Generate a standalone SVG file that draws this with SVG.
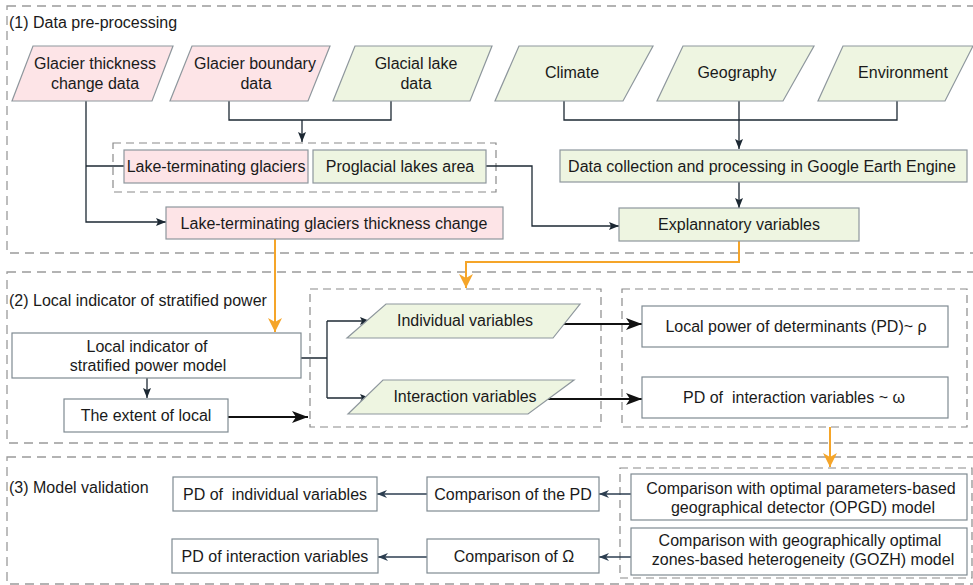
<svg xmlns="http://www.w3.org/2000/svg" width="973" height="585" viewBox="0 0 973 585">
<defs>
<style>
text{font-family:"Liberation Sans",Arial,sans-serif;font-size:16px;fill:#1a1a1a}
.c{text-anchor:middle}
.pre{white-space:pre}
.sec{fill:none;stroke:#9a9a9a;stroke-width:1.3;stroke-dasharray:9,6}
.grp{fill:none;stroke:#8a8a8a;stroke-width:1.2;stroke-dasharray:8,5}
.pink{fill:#fde4e7;stroke:#8e979d;stroke-width:1.2}
.green{fill:#eef5e1;stroke:#8e979d;stroke-width:1.2}
.white{fill:#ffffff;stroke:#7f8a92;stroke-width:1.2}
.ln{fill:none;stroke:#1c2833;stroke-width:1.3}
.thk{fill:none;stroke:#111;stroke-width:2}
.or{fill:none;stroke:#f5a529;stroke-width:2}
.sl{fill:none;stroke:#2c3e50;stroke-width:1.5}
</style>
<marker id="a" markerUnits="userSpaceOnUse" markerWidth="10" markerHeight="10" refX="10" refY="5" orient="auto"><path d="M0,1 L10,5 L0,9 L2,5 z" fill="#1c2833"/></marker>
<marker id="ab" markerUnits="userSpaceOnUse" markerWidth="16" markerHeight="12" refX="16" refY="6" orient="auto"><path d="M0,0 L16,6 L0,12 L4,6 z" fill="#111"/></marker>
<marker id="ao" markerUnits="userSpaceOnUse" markerWidth="14" markerHeight="14" refX="14" refY="7" orient="auto"><path d="M0,0 L14,7 L0,14 L4,7 z" fill="#f5a529"/></marker>
<marker id="as" markerUnits="userSpaceOnUse" markerWidth="10" markerHeight="10" refX="10" refY="5" orient="auto"><path d="M0,1 L10,5 L0,9 L3,5 z" fill="#2c3e50"/></marker>
</defs>

<g id="sections">
<rect class="sec" x="7" y="6" width="985" height="247"/>
<rect class="sec" x="7" y="272" width="985" height="171"/>
<rect class="sec" x="7" y="457" width="985" height="127"/>
<text x="9" y="28">(1) Data pre-processing</text>
<text x="9" y="306">(2) Local indicator of stratified power</text>
<text x="9" y="493">(3) Model validation</text>
</g>

<g id="groups">
<rect class="grp" x="113" y="143" width="383" height="49"/>
<rect class="grp" x="310" y="289" width="291" height="138"/>
<rect class="grp" x="622" y="289" width="345" height="138"/>
<rect class="grp" x="620" y="468" width="352" height="110"/>
</g>

<g id="connectors">
<path class="ln" d="M86,101 V222 H166" marker-end="url(#a)"/>
<path class="ln" d="M86,166 H124"/>
<path class="ln" d="M229,101 V120 H391 V101"/>
<path class="ln" d="M302,120 V142" marker-end="url(#a)"/>
<path class="ln" d="M486,166 H532 V226 H619" marker-end="url(#a)"/>
<path class="ln" d="M564,101 V120 H897 V101"/>
<path class="ln" d="M739,101 V149" marker-end="url(#a)"/>
<path class="ln" d="M739,182 V208" marker-end="url(#a)"/>
<path class="or" d="M275,239 V332" marker-end="url(#ao)"/>
<path class="or" d="M739,241 V262 H466 V288" marker-end="url(#ao)"/>
<path class="ln" d="M147,378 V398" marker-end="url(#a)"/>
<path class="thk" d="M228,417 H308" marker-end="url(#ab)"/>
<path class="ln" d="M301,358 H327 M327,321 V398"/>
<path class="ln" d="M327,321 H370" marker-end="url(#a)"/>
<path class="ln" d="M327,398 H370" marker-end="url(#a)"/>
<path class="thk" d="M553,324 H642" marker-end="url(#ab)"/>
<path class="thk" d="M548,399 H642" marker-end="url(#ab)"/>
<path class="or" d="M830,427 V467" marker-end="url(#ao)"/>
<path class="sl" d="M631,494 H599" marker-end="url(#as)"/>
<path class="sl" d="M427,494 H377" marker-end="url(#as)"/>
<path class="sl" d="M631,557 H599" marker-end="url(#as)"/>
<path class="sl" d="M427,557 H378" marker-end="url(#as)"/>
</g>

<g id="n-thickness"><polygon class="pink" points="33,46 173,46 152,101 12,101"/><text class="c" x="95" y="69">Glacier thickness</text><text class="c" x="95" y="89">change data</text></g>
<g id="n-boundary"><polygon class="pink" points="192,46 330,46 308,101 170,101"/><text class="c" x="255" y="69">Glacier boundary</text><text class="c" x="256" y="89">data</text></g>
<g id="n-lake"><polygon class="green" points="355,46 492,46 470,101 333,101"/><text class="c" x="416" y="69">Glacial lake</text><text class="c" x="416" y="89">data</text></g>
<g id="n-climate"><polygon class="green" points="519,46 653,46 623,101 495,101"/><text class="c" x="572" y="78">Climate</text></g>
<g id="n-geography"><polygon class="green" points="683,46 814,46 783,101 657,101"/><text class="c" x="737" y="78">Geography</text></g>
<g id="n-environment"><polygon class="green" points="843,46 973,46 945,101 818,101"/><text class="c" x="903" y="78">Environment</text></g>

<g id="n-ltg"><rect class="pink" x="124" y="150" width="184" height="33"/><text class="c" x="216" y="172">Lake-terminating glaciers</text></g>
<g id="n-pla"><rect class="green" x="313" y="150" width="173" height="33"/><text class="c" x="400" y="172">Proglacial lakes area</text></g>
<g id="n-ltgtc"><rect class="pink" x="166" y="207" width="337" height="32"/><text class="c" x="334" y="229">Lake-terminating glaciers thickness change</text></g>
<g id="n-gee"><rect class="green" x="560" y="150" width="407" height="32"/><text class="c" x="762" y="172">Data collection and processing in Google Earth Engine</text></g>
<g id="n-expl"><rect class="green" x="619" y="208" width="240" height="33"/><text class="c" x="739" y="230">Explannatory variables</text></g>

<g id="n-lisp"><rect class="white" x="12" y="333" width="289" height="45"/><text class="c" x="147" y="352">Local indicator of</text><text class="c" x="148" y="371">stratified power model</text></g>
<g id="n-extent"><rect class="white" x="64" y="399" width="164" height="33"/><text class="c" x="146" y="421">The extent of local</text></g>
<g id="n-indiv"><polygon class="green" points="386,304 580,304 553,338 347,338"/><text class="c" x="465" y="326">Individual variables</text></g>
<g id="n-inter"><polygon class="green" points="383,380 574,380 528,414 348,414"/><text class="c" x="465" y="402">Interaction variables</text></g>
<g id="n-lpd"><rect class="white" x="642" y="306" width="306" height="41"/><text class="c" x="796" y="332">Local power of determinants (PD)~ ρ</text></g>
<g id="n-pdi"><rect class="white" x="642" y="377" width="306" height="41"/><text class="c pre" x="794" y="403">PD of  interaction variables ~ ω</text></g>

<g id="n-pdind"><rect class="white" x="173" y="477" width="204" height="34"/><text class="c pre" x="275" y="500">PD of  individual variables</text></g>
<g id="n-cmppd"><rect class="white" x="427" y="477" width="172" height="34"/><text class="c" x="513" y="500">Comparison of the PD</text></g>
<g id="n-opgd"><rect class="white" x="631" y="474" width="336" height="46"/><text class="c" x="801" y="494">Comparison with optimal parameters-based</text><text class="c" x="803" y="513">geographical detector (OPGD) model</text></g>
<g id="n-pdint"><rect class="white" x="172" y="539" width="206" height="34"/><text class="c" x="275" y="562">PD of interaction variables</text></g>
<g id="n-cmpo"><rect class="white" x="427" y="539" width="172" height="34"/><text class="c" x="514" y="562">Comparison of Ω</text></g>
<g id="n-gozh"><rect class="white" x="631" y="528" width="336" height="47"/><text class="c" x="800" y="546">Comparison with geographically optimal</text><text class="c" x="803" y="565">zones-based heterogeneity (GOZH) model</text></g>
</svg>
